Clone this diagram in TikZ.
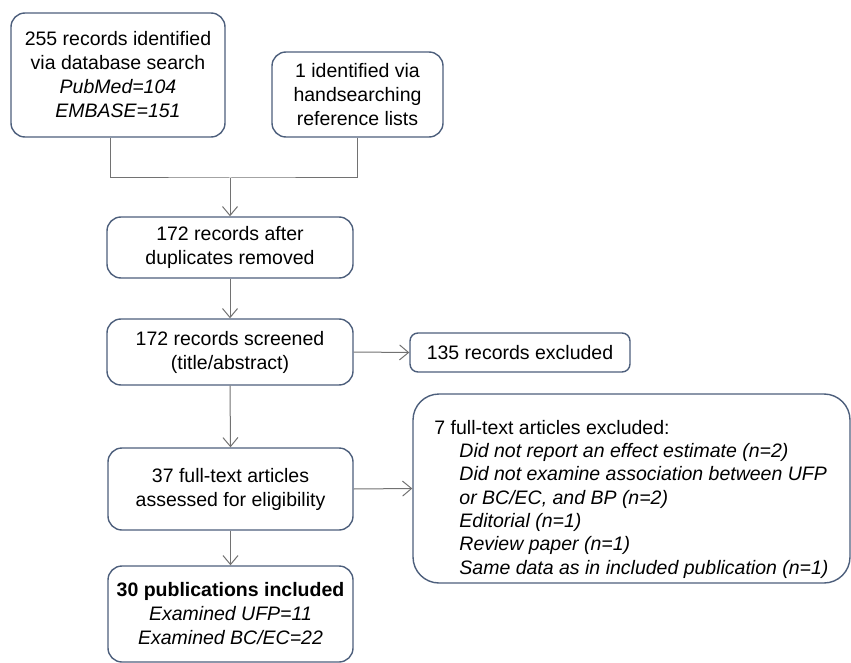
\documentclass[tikz,border=0pt]{standalone}
\usepackage{fontspec}
\setmainfont{Liberation Sans}
\usepackage{xcolor}
\usepackage{tikz}
\usetikzlibrary{arrows.meta, positioning}
\definecolor{frameSlate}{HTML}{4D5F7C}
\definecolor{flowGray}{HTML}{727272}
\tikzset{
    box_flow/.style={
        rectangle, rounded corners=14pt, draw=frameSlate, line width=1.4pt,
        fill=white, align=center, inner sep=2pt,
        font=\fontsize{19.5}{24}\selectfont
    },
    box_small/.style={
        box_flow, rounded corners=8pt
    },
    box_note/.style={
        box_flow, rounded corners=26pt, align=left,
        font=\fontsize{19.5}{23.3}\selectfont
    },
    flow_arrow/.style={
        -{Straight Barb[length=9pt, width=15pt, line width=1pt]},
        draw=flowGray, line width=1pt
    },
    flow_line/.style={
        draw=flowGray, line width=1pt
    }
}

\begin{document}
\begin{tikzpicture}[x=1pt, y=-1pt]
    \useasboundingbox (0,0) rectangle (851,663);

    % Identification
    \node[box_flow, minimum width=214pt, minimum height=124pt] (ident) at (118, 75)
        {255 records identified\\via database search\\\textit{PubMed=104}\\\textit{EMBASE=151}};
    \node[box_flow, minimum width=171pt, minimum height=85pt] (hand) at (357.5, 94.5)
        {1 identified via\\handsearching\\reference lists};

    % Screening
    \node[box_flow, minimum width=246pt, minimum height=61pt] (dedup) at (230, 247.5)
        {172 records after\\duplicates removed};
    \node[box_flow, minimum width=246pt, minimum height=66pt] (screen) at (230, 352)
        {172 records screened\\(title/abstract)};
    \node[box_small, minimum width=220pt, minimum height=39pt] (excl) at (520, 352.5)
        {135 records excluded};

    % Eligibility & Included
    \node[box_flow, minimum width=245pt, minimum height=82pt] (elig) at (230.5, 489)
        {37 full-text articles\\assessed for eligibility};
    \node[box_flow, minimum width=245pt, minimum height=96pt] (incl) at (230.5, 614)
        {\textbf{30 publications included}\\\textit{Examined UFP=11}\\\textit{Examined BC/EC=22}};
    \node[box_note, minimum width=437pt, minimum height=189pt] (ftexcl) at (631.5, 488.5)
        {\rule{0pt}{0pt}\\[12pt]
         7 full-text articles excluded:\\
         \hspace*{25pt}\textit{Did not report an effect estimate (n=2)}\\
         \hspace*{25pt}\textit{Did not examine association between UFP}\\
         \hspace*{25pt}\textit{or BC/EC, and BP (n=2)}\\
         \hspace*{25pt}\textit{Editorial (n=1)}\\
         \hspace*{25pt}\textit{Review paper (n=1)}\\
         \hspace*{25pt}\textit{Same data as in included publication (n=1)}};

    % Merge of the two sources
    \coordinate (merge) at (230, 178);
    \draw[flow_line] ([xshift=-8pt]ident.south) |- (merge) -| (hand.south);
    \draw[flow_arrow] (merge) -- (dedup.north);

    % Main flow
    \draw[flow_arrow] (dedup.south) -- (screen.north);
    \draw[flow_arrow] (screen.east) -- (excl.west);
    \draw[flow_arrow] (screen.south) -- (elig.north);
    \draw[flow_arrow] (elig.east) -- (ftexcl.west);
    \draw[flow_arrow] (elig.south) -- (incl.north);
\end{tikzpicture}
\end{document}
